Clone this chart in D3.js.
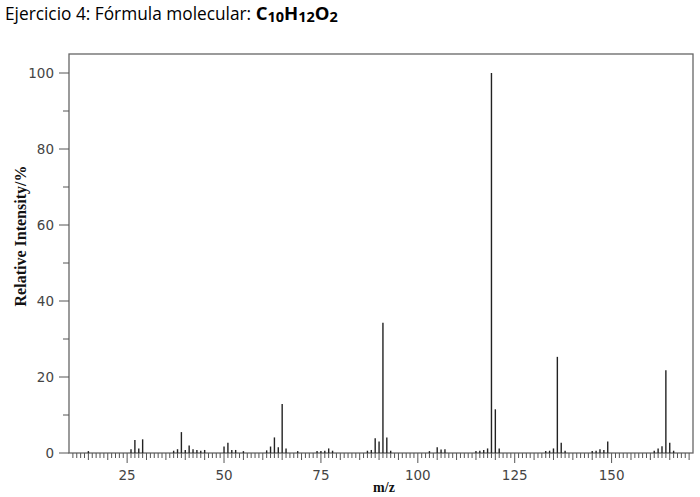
<!DOCTYPE html>
<meta charset="utf-8">
<script src="https://d3js.org/d3.v7.min.js"></script>
<style>
body { margin: 0; background: #fff; }
svg { display: block; }
.tick-label { font-family: "DejaVu Sans", Verdana, sans-serif; font-size: 13.5px; fill: #444; }
.axis-title { font-family: "Liberation Serif", "Times New Roman", serif; font-weight: bold; font-size: 14px; fill: #111; }
.title { font-family: "Open Sans", sans-serif; font-size: 17.3px; fill: #000; }
</style>
<body>
<script>

// m/z and relative intensity (%)
var mz = [15, 26, 27, 28, 29, 37, 38, 39, 40, 41, 42, 43, 44, 45,
          50, 51, 52, 53, 55, 61, 62, 63, 64, 65, 66, 69, 74, 75, 76, 77, 78,
          87, 88, 89, 90, 91, 92, 93, 103, 105, 106, 107, 115, 116, 117, 118,
          119, 120, 121, 133, 134, 135, 136, 137, 138, 145, 146, 147, 148, 149,
          161, 162, 163, 164, 165, 166]
var intensity = [0.5, 1.0, 3.4, 1.2, 3.6, 0.6, 1.0, 5.5, 0.8, 2.0, 1.0, 0.8, 0.6, 0.8,
                 1.7, 2.7, 0.8, 0.8, 0.5, 0.7, 1.7, 4.1, 1.5, 12.9, 1.2, 0.5, 0.5, 0.5, 0.6, 1.2, 0.6,
                 0.6, 0.8, 3.9, 3.0, 34.3, 4.1, 0.6, 0.5, 1.5, 0.9, 1.0, 0.5, 0.6, 0.8, 1.2,
                 100, 11.5, 1.2, 0.5, 0.6, 1.2, 25.3, 2.7, 0.6, 0.5, 0.6, 1.0, 0.8, 3.0,
                 0.6, 1.2, 1.8, 21.8, 2.7, 0.6]

var xTickLabels = [25, 50, 75, 100, 125, 150]
var yTickLabels = [0, 20, 40, 60, 80, 100]

var width = 700, height = 497

var svg = d3.select("body").append("svg")
    .attr("width", width)
    .attr("height", height)

var x = d3.scaleLinear().domain([10, 171]).range([69, 693])
var y = d3.scaleLinear().domain([0, 105]).range([453, 54])

// title
var title = svg.append("text")
    .attr("class", "title")
    .attr("x", 5)
    .attr("y", 20)
title.append("tspan").text("Ejercicio 4: Fórmula molecular: ")
var formula = [["C", false], ["10", true], ["H", false], ["12", true], ["O", false], ["2", true]]
formula.forEach(function (p, i) {
    var prevSub = i > 0 && formula[i - 1][1]
    title.append("tspan")
        .attr("font-weight", "bold")
        .style("font-size", p[1] ? "14.5px" : "18.5px")
        .attr("dy", p[1] ? 1.5 : (prevSub ? -1.5 : 0))
        .text(p[0])
})

// frame
svg.append("rect")
    .attr("x", x.range()[0])
    .attr("y", y.range()[1])
    .attr("width", x.range()[1] - x.range()[0])
    .attr("height", y.range()[0] - y.range()[1])
    .attr("fill", "none")
    .attr("stroke", "#666")
    .attr("stroke-width", 1.3)

// x ticks, every unit, longer every 5 and 25
var xTicks = d3.range(11, 171)
svg.append("g").selectAll("line")
    .data(xTicks)
    .enter().append("line")
    .attr("x1", function (d) { return x(d) })
    .attr("x2", function (d) { return x(d) })
    .attr("y1", y(0))
    .attr("y2", function (d) { return y(0) + (d % 25 == 0 ? 10 : d % 5 == 0 ? 7 : 5) })
    .attr("stroke", "#555")
    .attr("stroke-width", 1)

svg.append("g").selectAll("text")
    .data(xTickLabels)
    .enter().append("text")
    .attr("class", "tick-label")
    .attr("x", function (d) { return x(d) })
    .attr("y", 480)
    .attr("text-anchor", "middle")
    .text(function (d) { return d })

// y ticks
svg.append("g").selectAll("line")
    .data(d3.range(0, 101, 10))
    .enter().append("line")
    .attr("x1", function (d) { return x.range()[0] - (d % 20 == 0 ? 10 : 6) })
    .attr("x2", x.range()[0])
    .attr("y1", function (d) { return y(d) })
    .attr("y2", function (d) { return y(d) })
    .attr("stroke", "#555")
    .attr("stroke-width", 1)

svg.append("g").selectAll("text")
    .data(yTickLabels)
    .enter().append("text")
    .attr("class", "tick-label")
    .attr("x", 54)
    .attr("y", function (d) { return y(d) })
    .attr("dy", "0.36em")
    .attr("text-anchor", "end")
    .text(function (d) { return d })

// peaks
svg.append("g").selectAll("line")
    .data(mz)
    .enter().append("line")
    .attr("x1", function (d) { return x(d) })
    .attr("x2", function (d) { return x(d) })
    .attr("y1", y(0))
    .attr("y2", function (d, i) { return y(intensity[i]) })
    .attr("stroke", "#222")
    .attr("stroke-width", 1.4)

// axis titles
svg.append("text")
    .attr("class", "axis-title")
    .attr("transform", "translate(26,236) rotate(-90)")
    .style("font-size", "16px")
    .attr("text-anchor", "middle")
    .text("Relative Intensity/%")

svg.append("text")
    .attr("class", "axis-title")
    .attr("x", 384)
    .attr("y", 492)
    .attr("text-anchor", "middle")
    .text("m/z")

</script>
</body>
